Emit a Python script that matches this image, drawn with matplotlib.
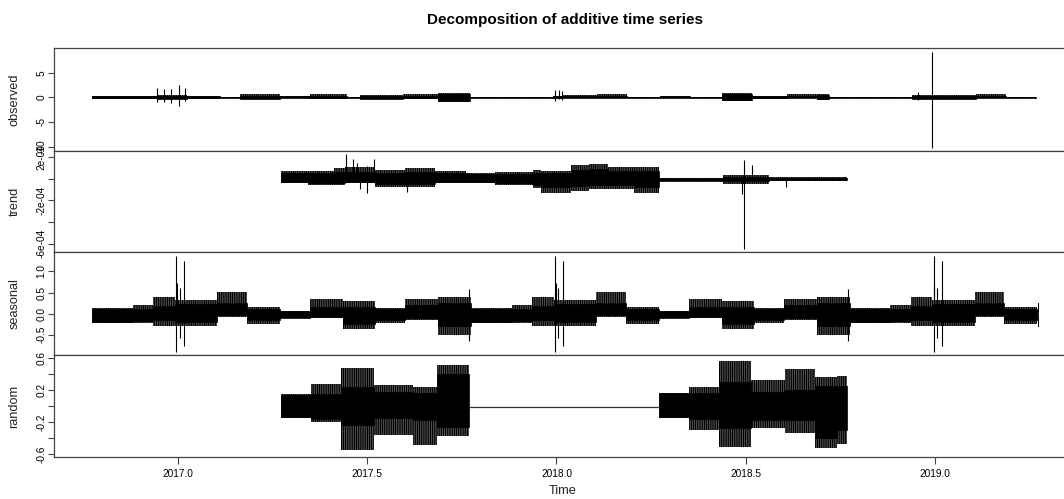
import numpy as np
import matplotlib.pyplot as plt

plt.rcParams['font.family'] = ['Liberation Sans', 'DejaVu Sans']
plt.rcParams['hatch.linewidth'] = 0.9

# ---- observed: envelope of the series between breakpoints (years) ----
obs_edges = [2016.774, 2016.945, 2017.025, 2017.112, 2017.164, 2017.270, 2017.349,
             2017.447, 2017.481, 2017.594, 2017.687, 2017.771, 2017.990, 2018.017,
             2018.107, 2018.186, 2018.273, 2018.352, 2018.437, 2018.516, 2018.610,
             2018.687, 2018.721, 2018.940, 2018.993, 2019.109, 2019.188, 2019.267]
obs_hi = [0.3, 0.4, 0.35, 0.15, 0.6, 0.25, 0.6, 0.15, 0.45, 0.7, 0.9, 0.15, 0.3,
          0.5, 0.7, 0.12, 0.2, 0.12, 0.9, 0.25, 0.6, 0.6, 0.12, 0.4, 0.4, 0.6, 0.15]
obs_lo = [-0.3, -0.4, -0.3, -0.15, -0.4, -0.2, -0.25, -0.15, -0.4, -0.25, -0.9, -0.15, -0.3,
          -0.2, -0.15, -0.12, -0.2, -0.12, -0.8, -0.25, -0.2, -0.45, -0.12, -0.4, -0.35, -0.15, -0.15]
obs_core_hi = [0.2, 0.25, 0.25, 0.12, 0.3, 0.18, 0.3, 0.12, 0.3, 0.35, 0.7, 0.12, 0.2,
               0.25, 0.35, 0.1, 0.18, 0.1, 0.7, 0.18, 0.3, 0.4, 0.1, 0.25, 0.3, 0.3, 0.12]
obs_core_lo = [-0.2, -0.25, -0.2, -0.12, -0.3, -0.15, -0.15, -0.12, -0.3, -0.15, -0.7, -0.12, -0.2,
               -0.15, -0.12, -0.1, -0.18, -0.1, -0.6, -0.18, -0.15, -0.35, -0.1, -0.25, -0.3, -0.12, -0.12]
obs_spk_t = [2016.946, 2016.965, 2016.982, 2017.002, 2017.019, 2017.997, 2018.007,
             2018.015, 2018.954, 2018.992]
obs_spk_hi = [1.8, 1.7, 1.6, 2.5, 1.8, 1.5, 1.4, 1.3, 1.1, 9.3]
obs_spk_lo = [-0.9, -0.9, -1.1, -1.8, -0.7, -0.8, -0.4, -0.6, -0.5, -10.2]

# ---- trend ----
trend_edges = [2017.273, 2017.343, 2017.412, 2017.442, 2017.521, 2017.601, 2017.680,
               2017.760, 2017.839, 2017.938, 2017.958, 2018.038, 2018.087, 2018.137,
               2018.206, 2018.271, 2018.440, 2018.560, 2018.767]
trend_hi = [7.4e-5, 7.4e-5, 9.6e-5, 1.05e-4, 8.1e-5, 9.6e-5, 7.4e-5, 5.6e-5, 6.5e-5,
            8.1e-5, 7.4e-5, 1.27e-4, 1.36e-4, 1.11e-4, 1.11e-4, 1.0e-5, 3.0e-5, 1.5e-5]
trend_lo = [-4.3e-5, -5.8e-5, -5.8e-5, -4.3e-5, -8.0e-5, -7.4e-5, -4.3e-5, -4.3e-5, -5.8e-5,
            -8.9e-5, -1.30e-4, -1.11e-4, -9.8e-5, -9.8e-5, -1.35e-4, -2.5e-5, -4.5e-5, -2.0e-5]
trend_core_hi = [5e-5, 5e-5, 6e-5, 6e-5, 5e-5, 6e-5, 5e-5, 4e-5, 4.5e-5,
                 5e-5, 5e-5, 8e-5, 9e-5, 7e-5, 7e-5, 8e-6, 1.2e-5, 8e-6]
trend_core_lo = [-3e-5, -4e-5, -4e-5, -3e-5, -5e-5, -5e-5, -3e-5, -3e-5, -4e-5,
                 -6e-5, -8e-5, -7e-5, -6e-5, -6e-5, -8e-5, -2e-5, -2.5e-5, -1.5e-5]
trend_spk_t = [2017.445, 2017.464, 2017.474, 2017.482, 2017.499, 2017.500, 2017.517,
               2017.606, 2018.489, 2018.496, 2018.517, 2018.607]
trend_spk_hi = [2.29e-4, 1.80e-4, 1.43e-4, 0.0, 0.0, 1.18e-4, 1.80e-4, 0.0, 0.0, 1.73e-4, 1.27e-4, 0.0]
trend_spk_lo = [0.0, 0.0, 0.0, -9.8e-5, -1.30e-4, 0.0, 0.0, -1.20e-4, -1.42e-4, -6.51e-4, 0.0, -8.0e-5]

# ---- seasonal: one yearly figure, offsets from the series start ----
seas_start = 2016.774
seas_end = 2019.272
seas_off = [0.0, 0.108, 0.161, 0.219, 0.330, 0.409, 0.496, 0.575, 0.662, 0.747, 0.826, 0.913, 1.0]
seas_hi = [0.14, 0.20, 0.40, 0.33, 0.52, 0.17, 0.07, 0.34, 0.29, 0.14, 0.36, 0.40]
seas_lo = [-0.21, -0.22, -0.28, -0.30, -0.08, -0.24, -0.11, -0.11, -0.36, -0.21, -0.16, -0.50]
seas_core_hi = [0.12, 0.12, 0.18, 0.22, 0.25, 0.10, 0.06, 0.15, 0.15, 0.10, 0.20, 0.25]
seas_core_lo = [-0.19, -0.18, -0.15, -0.20, -0.02, -0.15, -0.10, -0.08, -0.25, -0.15, -0.10, -0.30]
seas_spk_off = [0.222, 0.224, 0.231, 0.243, 0.995]
seas_spk_hi = [1.37, 0.72, 0.60, 1.25, 0.59]
seas_spk_lo = [-0.90, 0.0, -0.58, -0.77, -0.65]

# ---- random ----
rand_edges = [2017.273, 2017.353, 2017.432, 2017.517, 2017.621, 2017.685, 2017.770]
rand_hi = [0.15, 0.28, 0.48, 0.26, 0.24, 0.51]
rand_lo = [-0.15, -0.20, -0.55, -0.36, -0.49, -0.38]
rand_core_hi = [0.14, 0.15, 0.24, 0.18, 0.16, 0.40]
rand_core_lo = [-0.14, -0.16, -0.24, -0.15, -0.18, -0.26]
rand_edges2 = [2018.271, 2018.350, 2018.430, 2018.514, 2018.604, 2018.683, 2018.742, 2018.767]
rand_hi2 = [0.17, 0.24, 0.56, 0.33, 0.47, 0.37, 0.38]
rand_lo2 = [-0.15, -0.30, -0.51, -0.28, -0.34, -0.53, -0.47]
rand_core_hi2 = [0.16, 0.16, 0.30, 0.18, 0.20, 0.25, 0.25]
rand_core_lo2 = [-0.14, -0.16, -0.28, -0.18, -0.18, -0.40, -0.30]
rand_flat = [2017.770, 2018.271]
rand_flat_val = -0.01


def band(ax, edges, hi, lo, hatch=False):
    x = np.asarray(edges)
    h = np.append(hi, hi[-1])
    l = np.append(lo, lo[-1])
    if hatch:
        # spiky outer part: grey fill under dense vertical strokes
        ax.fill_between(x, l, h, step='post', facecolor='#7a7a7a', edgecolor='black',
                        hatch='|' * 9, linewidth=0)
    else:
        ax.fill_between(x, l, h, step='post', color='black', linewidth=0.5)


def series(ax, edges, hi, lo, core_hi, core_lo):
    band(ax, edges, hi, lo, hatch=True)
    band(ax, edges, core_hi, core_lo)


W, H = 1064, 499
fig = plt.figure(figsize=(W / 100, H / 100), dpi=100)
left, right = 54.3, 1076
rows = [(48.3, 150.7), (150.7, 252.3), (252.3, 355), (355, 457)]
axes = []
for top, bot in rows:
    ax = fig.add_axes([left / W, 1 - bot / H, (right - left) / W, (bot - top) / H])
    axes.append(ax)

ax_obs, ax_trend, ax_seas, ax_rand = axes

# observed
series(ax_obs, obs_edges, obs_hi, obs_lo, obs_core_hi, obs_core_lo)
ax_obs.vlines(obs_spk_t, obs_spk_lo, obs_spk_hi, color='black', lw=0.8)
ax_obs.set_ylim(-10.85, 9.96)
ax_obs.set_yticks([5, 0, -5, -10], ['5', '0', '-5', '-10'])

# trend
series(ax_trend, trend_edges, trend_hi, trend_lo, trend_core_hi, trend_core_lo)
ax_trend.vlines(trend_spk_t, trend_spk_lo, trend_spk_hi, color='black', lw=0.8)
ax_trend.set_ylim(-6.81e-4, 2.59e-4)
ax_trend.set_yticks([2e-4, 0, -2e-4, -4e-4, -6e-4], ['2e-04', '', '-2e-04', '', '-6e-04'])

# seasonal, repeated every year
for k in range(3):
    base = seas_start + k
    e = [min(base + o, seas_end) for o in seas_off]
    series(ax_seas, e, seas_hi, seas_lo, seas_core_hi, seas_core_lo)
    st = [base + o for o in seas_spk_off]
    keep = [i for i, t in enumerate(st) if t < seas_end]
    ax_seas.vlines([st[i] for i in keep], [seas_spk_lo[i] for i in keep],
                   [seas_spk_hi[i] for i in keep], color='black', lw=0.8)
ax_seas.set_ylim(-0.979, 1.455)
ax_seas.set_yticks([1.0, 0.5, 0.0, -0.5], ['1.0', '0.5', '0.0', '-0.5'])

# random
series(ax_rand, rand_edges, rand_hi, rand_lo, rand_core_hi, rand_core_lo)
series(ax_rand, rand_edges2, rand_hi2, rand_lo2, rand_core_hi2, rand_core_lo2)
ax_rand.plot(rand_flat, [rand_flat_val] * 2, color='#333333', lw=0.9)
ax_rand.set_ylim(-0.638, 0.641)
ax_rand.set_yticks([0.6, 0.4, 0.2, 0.0, -0.2, -0.4, -0.6],
                   ['0.6', '', '0.2', '', '-0.2', '', '-0.6'])

for ax, name in zip(axes, ['observed', 'trend', 'seasonal', 'random']):
    ax.set_xlim(2016.674, 2019.372)
    for s in ax.spines.values():
        s.set_color('#444444')
        s.set_linewidth(0.9)
    ax.tick_params(axis='y', direction='out', length=4, width=0.8, color='#444444',
                   labelsize=7.3, pad=1.5)
    for lab in ax.get_yticklabels():
        lab.set_rotation(90)
        lab.set_va('center')
    ax.set_ylabel(name, fontsize=9.2, color='#222222')
    ax.yaxis.set_label_coords(-33.8 / (right - left), 0.5)
    if ax is not ax_rand:
        ax.set_xticks([])

ax_rand.set_xticks([2017.0, 2017.5, 2018.0, 2018.5, 2019.0],
                   ['2017.0', '2017.5', '2018.0', '2018.5', '2019.0'])
ax_rand.tick_params(axis='x', direction='out', length=5, width=0.8, color='#444444',
                    labelsize=7.3, pad=3.5)

fig.text(563 / W, 1 - 491 / H, 'Time', ha='center', va='center', fontsize=9.2,
         color='#222222')
fig.text(565 / W, 1 - 20 / H, 'Decomposition of additive time series', ha='center',
         va='center', fontsize=11, fontweight='bold')

fig.savefig('out.png', dpi=100)
